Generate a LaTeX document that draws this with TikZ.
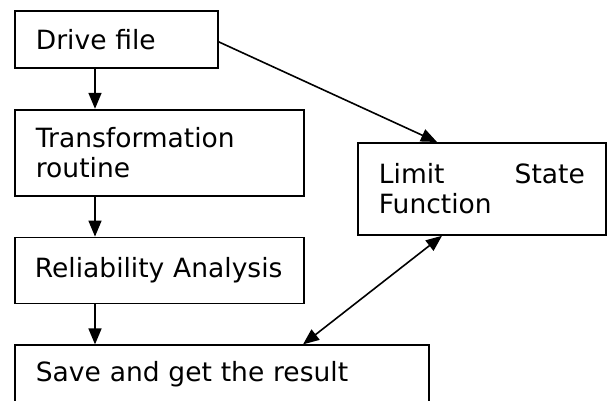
\documentclass[tikz,border=0pt]{standalone}
\usepackage{fontspec}
\setmainfont{DejaVu Sans}
\usetikzlibrary{arrows.meta,positioning}
\tikzstyle{block} = [draw, shape=rectangle, line width=1.8pt, anchor=north west, inner xsep=21pt, align=left, font=\fontsize{26.5pt}{30pt}\selectfont]
\tikzstyle{Arrow} = [->, >={Triangle[length=16pt,width=13pt]}, line width=1.6pt]

\begin{document}
\begin{tikzpicture}[x=1pt,y=-1pt]
    \useasboundingbox (0,0) rectangle (613,401);
    \clip (0,0) rectangle (613,401);
    %%%%% Left column %%%%%
    \node (D) [block, minimum width=203pt, minimum height=57pt, text width=161pt] at (14,10) {Drive file};
    \node (T) [block, minimum width=289pt, minimum height=86pt, text width=247pt, below=40pt of D.south west, anchor=north west] {Transformation\\routine};
    \node (R) [block, minimum width=289pt, minimum height=66pt, inner xsep=20pt, text width=249pt, below=40pt of T.south west, anchor=north west] {Reliability Analysis};
    \node (S) [block, minimum width=414pt, text width=372pt, text height=20pt, text depth=45pt, inner ysep=16pt, below=40pt of R.south west, anchor=north west] {Save and get the result};
    %%%%% Right box %%%%%
    \node (L) [block, minimum width=248pt, minimum height=92pt, text width=206pt] at (357,142) {Limit\hfill State\\Function};
    %%%%% Edges %%%%%
    \draw [Arrow] ([xshift=81pt]D.south west) -- ([xshift=81pt]T.north west);
    \draw [Arrow] ([xshift=81pt]T.south west) -- ([xshift=81pt]R.north west);
    \draw [Arrow] ([xshift=81pt]R.south west) -- ([xshift=81pt]S.north west);
    \draw [Arrow] ([yshift=-2.5pt]D.east) -- ([xshift=80pt]L.north west);
    \draw [Arrow, <->] ([xshift=289pt]S.north west) -- ([xshift=85pt]L.south west);
\end{tikzpicture}
\end{document}
